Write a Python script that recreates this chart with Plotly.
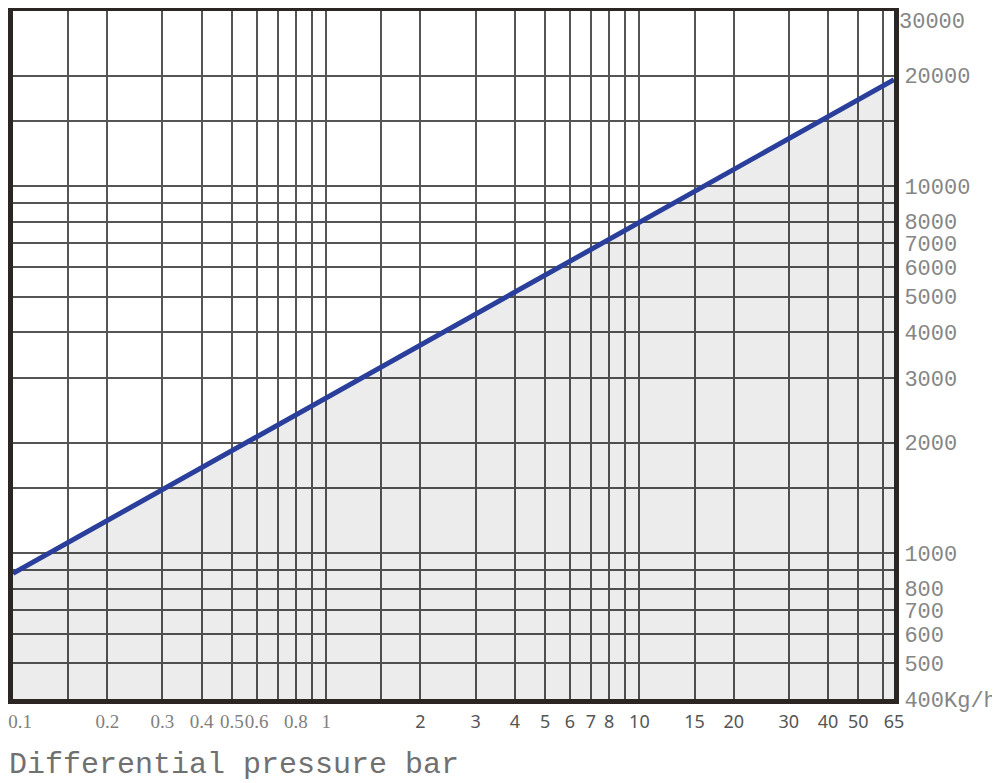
import plotly.graph_objects as go

# differential pressure (bar) vs capacity (kg/h)
pressure = [0.1, 65]
capacity = [880, 19500]

x_ticks = [0.1, 0.2, 0.3, 0.4, 0.5, 0.6, 0.8, 1, 2, 3, 4, 5, 6, 7, 8, 10, 15, 20, 30, 40, 50, 65]
x_labels = ["0.1", "0.2", "0.3", "0.4", "0.5", "0.6", "0.8", "1",
            "2", "3", "4", "5", "6", "7", "8", "10", "15", "20", "30", "40", "50", "65"]
x_grid = [0.15, 0.2, 0.3, 0.4, 0.5, 0.6, 0.7, 0.8, 0.9, 1, 1.5, 2, 3, 4, 5, 6, 7, 8, 9,
          10, 15, 20, 30, 40, 50, 60]

y_ticks = [400, 500, 600, 700, 800, 1000, 2000, 3000, 4000, 5000, 6000, 7000, 8000, 10000, 20000]
y_labels = ["400Kg/h", "500", "600", "700", "800", "1000", "2000", "3000", "4000", "5000",
            "6000", "7000", "8000", "10000", "20000"]
y_grid = [500, 600, 700, 800, 900, 1000, 1500, 2000, 3000, 4000, 5000, 6000, 7000, 8000,
          9000, 10000, 15000, 20000]
y_top = 30000

serif = "Liberation Serif"
mono = "Liberation Mono"

# the small values use a serif face, the rest a sans face
x_text = []
for v, lab in zip(x_ticks, x_labels):
    if v < 2:
        if v == x_ticks[0]:
            lab = "&nbsp;&nbsp;&nbsp;" + lab  # keep first label inside the page
        x_text.append('<span style="font-family:%s;font-size:19px;fill:#808080">%s</span>' % (serif, lab))
    else:
        x_text.append(lab)

fig = go.Figure()
fig.add_trace(go.Scatter(
    x=pressure, y=capacity, mode="lines",
    line=dict(color="#2a3f9b", width=5),
    fill="tozeroy", fillcolor="rgba(0,0,0,0.075)",
    showlegend=False, hoverinfo="skip",
))

grid_col = "#555555"
fig.update_xaxes(
    type="log", range=[-1, 1.8129], automargin=False,
    tickmode="array", tickvals=x_ticks, ticktext=x_text, tickangle=0,
    tickfont=dict(family="Noto Sans", size=18, color="#555555"),
    ticks="", ticklabelstandoff=2, ticklabeloverflow="allow",
    showgrid=False, zeroline=False,
    minor=dict(tickmode="array", tickvals=x_grid, showgrid=True,
               gridcolor=grid_col, gridwidth=1.5, ticks=""),
    showline=True, mirror=True, linecolor="#2b2523", linewidth=5,
)
fig.update_yaxes(
    type="log", range=[2.60206, 4.47712], side="right", automargin=False,
    tickmode="array", tickvals=y_ticks, ticktext=y_labels,
    tickfont=dict(family=mono, size=22, color="#858585"),
    ticks="", ticklabelstandoff=1, ticklabeloverflow="allow",
    showgrid=False, zeroline=False,
    minor=dict(tickmode="array", tickvals=y_grid, showgrid=True,
               gridcolor=grid_col, gridwidth=1.5, ticks=""),
    showline=True, mirror=True, linecolor="#2b2523", linewidth=5,
)

# top label would be clipped as a tick, so put it as a note under the frame edge
fig.add_annotation(
    x=1, xref="paper", y=4.47712, yref="y", text=str(y_top),
    xanchor="left", yanchor="top", xshift=3, yshift=3, showarrow=False,
    font=dict(family=mono, size=22, color="#858585"),
)
fig.add_annotation(
    x=0, xref="paper", y=-0.096, yref="paper", text="Differential pressure bar",
    xanchor="left", yanchor="middle", xshift=-6, showarrow=False,
    font=dict(family=mono, size=30, color="#707070"),
)

fig.update_layout(
    width=992, height=775,
    margin=dict(l=5, r=106, t=3, b=84),
    paper_bgcolor="white", plot_bgcolor="white",
)

fig.write_html("out.html")
